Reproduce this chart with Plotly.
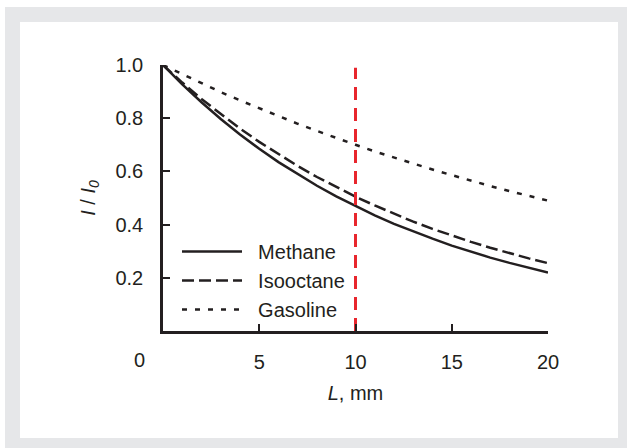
import plotly.graph_objects as go

# ---- data ----
L_mm = [0, 1, 2, 3, 4, 5, 6, 7, 8, 9, 10, 11, 12, 13, 14, 15, 16, 17, 18, 19, 20]
methane = [1.000, 0.927, 0.860, 0.797, 0.739, 0.685, 0.635, 0.589, 0.546, 0.506, 0.469,
           0.435, 0.403, 0.374, 0.347, 0.321, 0.298, 0.276, 0.256, 0.237, 0.220]
isooctane = [1.000, 0.934, 0.872, 0.815, 0.761, 0.711, 0.664, 0.620, 0.579, 0.541, 0.505,
             0.472, 0.441, 0.411, 0.384, 0.359, 0.335, 0.313, 0.292, 0.273, 0.255]
gasoline = [1.000, 0.965, 0.931, 0.898, 0.867, 0.837, 0.807, 0.779, 0.752, 0.725, 0.700,
            0.675, 0.652, 0.629, 0.607, 0.586, 0.565, 0.545, 0.526, 0.508, 0.490]
marker_L = [10, 10]
marker_y = [0, 0.99]
x_ticks = [5, 10, 15, 20]
y_ticks = [0.2, 0.4, 0.6, 0.8, 1.0]
y_ticktext = ["0.2", "0.4", "0.6", "0.8", "1.0"]
series_names = ["Methane", "Isooctane", "Gasoline"]

INK = "#231f20"
FONT = "Liberation Sans, Arial, Helvetica, sans-serif"
FS = 20

fig = go.Figure()
fig.add_trace(go.Scatter(x=L_mm, y=methane, mode="lines", name="&nbsp;&nbsp;" + series_names[0],
                         line=dict(color=INK, width=2.5)))
fig.add_trace(go.Scatter(x=L_mm, y=isooctane, mode="lines", name="&nbsp;&nbsp;" + series_names[1],
                         line=dict(color=INK, width=2.5, dash="12px,5px")))
fig.add_trace(go.Scatter(x=L_mm, y=gasoline, mode="lines", name="&nbsp;&nbsp;" + series_names[2],
                         line=dict(color=INK, width=2.5, dash="5px,8px")))
fig.add_trace(go.Scatter(x=marker_L, y=marker_y, mode="lines", showlegend=False,
                         line=dict(color="#e8262d", width=3, dash="13px,8px")))

# background frame (pixel -> paper conversion for plot area 163..548 x 65..331)
def px(x):
    return (x - 163) / 385.0

def py(y):
    return (331 - y) / 266.0

fig.add_shape(type="rect", xref="paper", yref="paper", layer="below",
              x0=px(5), x1=px(640), y0=py(460), y1=py(7),
              fillcolor="#e6e7e9", line=dict(width=0))
fig.add_shape(type="rect", xref="paper", yref="paper", layer="below",
              x0=px(20), x1=px(618), y0=py(438), y1=py(22),
              fillcolor="white", line=dict(width=0))

fig.add_annotation(x=0, y=0, xref="x", yref="y", text="0", showarrow=False,
                   xshift=-24, yshift=-29, font=dict(family=FONT, size=FS, color=INK))

fig.update_layout(
    width=627, height=448,
    margin=dict(l=163, r=79, t=65, b=117),
    paper_bgcolor="white",
    plot_bgcolor="rgba(0,0,0,0)",
    font=dict(family=FONT, size=FS, color=INK),
    showlegend=True,
    legend=dict(x=px(177), y=py(232), xanchor="left", yanchor="top",
                bgcolor="rgba(0,0,0,0)", itemwidth=60, tracegroupgap=0,
                font=dict(family=FONT, size=FS, color=INK)),
    xaxis=dict(range=[0, 20], tickvals=x_ticks, showgrid=False, zeroline=False,
               showline=True, linecolor=INK, linewidth=2.5,
               ticks="inside", ticklen=7, tickwidth=2, tickcolor=INK,
               ticklabelstandoff=11,
               title=dict(text="<i>L</i>, mm", standoff=15,
                          font=dict(family=FONT, size=FS, color=INK))),
    yaxis=dict(range=[0, 1], tickvals=y_ticks, ticktext=y_ticktext, showgrid=False,
               zeroline=False, showline=True, linecolor=INK, linewidth=2.5,
               ticks="inside", ticklen=7, tickwidth=2, tickcolor=INK,
               ticklabelstandoff=13,
               title=dict(text="<i>I</i> / <i>I</i><sub><i>0</i></sub>", standoff=15,
                          font=dict(family=FONT, size=FS, color=INK))),
)

fig.write_html("out.html", config={"displayModeBar": False},
               post_script="document.body.style.margin='0px';")
